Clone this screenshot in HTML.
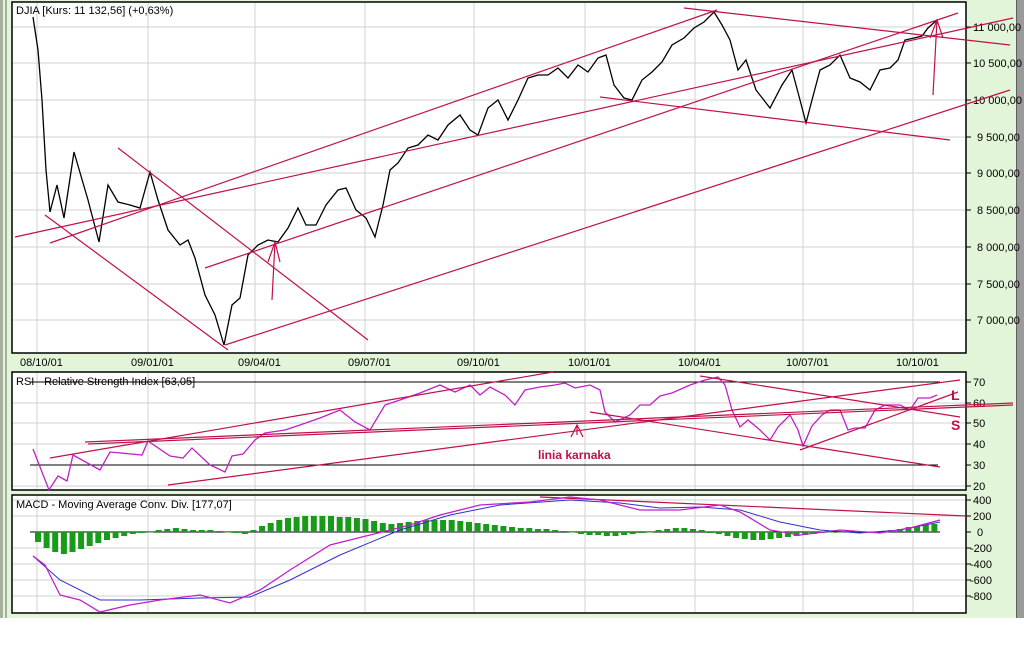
<!DOCTYPE html>
<html><head><meta charset="utf-8"><style>
html,body{margin:0;padding:0;width:1024px;height:651px;overflow:hidden;background:#fff}
svg{display:block;font-family:"Liberation Sans",sans-serif}
</style></head><body>
<svg id="s" width="1024" height="651" viewBox="0 0 1024 651" xmlns="http://www.w3.org/2000/svg">
<rect x="0" y="0" width="1024" height="618" fill="#e3f5d9"/>
<rect x="0" y="0" width="3" height="618" fill="#a8b0a0"/>
<rect x="5" y="0" width="2" height="618" fill="#a8b0a0"/>
<rect x="1017" y="0" width="7" height="618" fill="#9a9a9a"/>
<rect x="1016" y="0" width="1" height="618" fill="#606060"/>
<rect x="12" y="2" width="954" height="351" fill="#fff" stroke="#000" stroke-width="1.5"/>
<g stroke="#d2d2d2" stroke-width="1">
<line x1="37" y1="3" x2="37" y2="352"/><line x1="148" y1="3" x2="148" y2="352"/><line x1="255" y1="3" x2="255" y2="352"/><line x1="365" y1="3" x2="365" y2="352"/><line x1="474" y1="3" x2="474" y2="352"/><line x1="585" y1="3" x2="585" y2="352"/><line x1="695" y1="3" x2="695" y2="352"/><line x1="803" y1="3" x2="803" y2="352"/><line x1="913" y1="3" x2="913" y2="352"/>
<line x1="13" y1="27" x2="965" y2="27"/><line x1="13" y1="63" x2="965" y2="63"/><line x1="13" y1="100" x2="965" y2="100"/><line x1="13" y1="137" x2="965" y2="137"/><line x1="13" y1="173" x2="965" y2="173"/><line x1="13" y1="210" x2="965" y2="210"/><line x1="13" y1="247" x2="965" y2="247"/><line x1="13" y1="284" x2="965" y2="284"/><line x1="13" y1="320" x2="965" y2="320"/>
</g>
<g font-size="11" fill="#000">
<text x="16" y="14">DJIA [Kurs: 11 132,56] (+0,63%)</text>
<g stroke="#000"><line x1="966" y1="27" x2="971" y2="27"/><line x1="966" y1="63" x2="971" y2="63"/><line x1="966" y1="100" x2="971" y2="100"/><line x1="966" y1="137" x2="971" y2="137"/><line x1="966" y1="173" x2="971" y2="173"/><line x1="966" y1="210" x2="971" y2="210"/><line x1="966" y1="247" x2="971" y2="247"/><line x1="966" y1="284" x2="971" y2="284"/><line x1="966" y1="320" x2="971" y2="320"/></g>
<text x="973" y="31">11 000,00</text><text x="973" y="67">10 500,00</text><text x="973" y="104">10 000,00</text><text x="977" y="141">9 500,00</text><text x="977" y="177">9 000,00</text><text x="977" y="214">8 500,00</text><text x="977" y="251">8 000,00</text><text x="977" y="288">7 500,00</text><text x="977" y="324">7 000,00</text>
<text x="20" y="366">08/10/01</text><text x="131" y="366">09/01/01</text><text x="238" y="366">09/04/01</text><text x="348" y="366">09/07/01</text><text x="457" y="366">09/10/01</text><text x="568" y="366">10/01/01</text><text x="678" y="366">10/04/01</text><text x="786" y="366">10/07/01</text><text x="896" y="366">10/10/01</text>
</g>
<polyline fill="none" stroke="#000" stroke-width="1.3" points="33,17 38,50 42,100 46,170 50,212 57,185 64,218 74,152 88,200 99,242 108,185 118,202 130,205 140,208 150,172 158,200 168,230 180,245 188,240 195,258 205,295 215,315 224,345 232,305 240,298 248,255 258,245 268,240 278,242 288,228 298,208 306,225 316,225 326,205 338,190 346,188 356,210 366,218 375,237 383,205 390,170 398,163 408,148 418,145 428,135 438,140 448,125 460,115 470,130 478,135 488,108 498,100 508,120 518,100 528,78 538,75 548,75 558,68 568,78 578,65 588,72 598,58 606,55 614,85 624,98 632,100 642,80 652,72 662,62 672,45 684,38 694,28 704,22 714,12 722,25 730,40 738,70 746,60 756,90 770,108 782,85 792,70 800,100 806,123 812,100 820,70 830,65 840,55 850,78 860,82 870,90 880,70 890,68 898,60 905,40 914,38 922,36 928,28 937,20"/>
<g stroke="#c0104a" stroke-width="1.2" fill="none">
<line x1="15" y1="237" x2="1013" y2="18"/>
<line x1="50" y1="243" x2="717" y2="10"/>
<line x1="205" y1="268" x2="958" y2="13"/>
<line x1="225" y1="345" x2="1010" y2="90"/>
<line x1="118" y1="148" x2="368" y2="340"/>
<line x1="45" y1="215" x2="228" y2="350"/>
<line x1="684" y1="8" x2="1010" y2="45"/>
<line x1="600" y1="97" x2="950" y2="140"/>
<line x1="272" y1="300" x2="275" y2="242"/><polyline points="268,262 275,242 280,262"/>
<line x1="933" y1="95" x2="937" y2="20"/><polyline points="930,38 937,20 943,38"/>
</g>
<rect x="12" y="372" width="954" height="118" fill="#fff" stroke="#000" stroke-width="1.5"/>
<g stroke="#d2d2d2"><line x1="37" y1="373" x2="37" y2="489"/><line x1="148" y1="373" x2="148" y2="489"/><line x1="255" y1="373" x2="255" y2="489"/><line x1="365" y1="373" x2="365" y2="489"/><line x1="474" y1="373" x2="474" y2="489"/><line x1="585" y1="373" x2="585" y2="489"/><line x1="695" y1="373" x2="695" y2="489"/><line x1="803" y1="373" x2="803" y2="489"/><line x1="913" y1="373" x2="913" y2="489"/>
<line x1="13" y1="403" x2="965" y2="403"/><line x1="13" y1="423" x2="965" y2="423"/><line x1="13" y1="444" x2="965" y2="444"/><line x1="13" y1="486" x2="965" y2="486"/></g>
<line x1="30" y1="382" x2="940" y2="382" stroke="#000"/>
<line x1="30" y1="465" x2="938" y2="465" stroke="#000"/>
<g font-size="11"><text x="16" y="385">RSI - Relative Strength Index [63,05]</text>
<text x="973" y="386">70</text><text x="973" y="407">60</text><text x="973" y="427">50</text><text x="973" y="448">40</text><text x="973" y="469">30</text><text x="973" y="490">20</text></g>
<g stroke="#000"><line x1="966" y1="382" x2="971" y2="382"/><line x1="966" y1="403" x2="971" y2="403"/><line x1="966" y1="423" x2="971" y2="423"/><line x1="966" y1="444" x2="971" y2="444"/><line x1="966" y1="465" x2="971" y2="465"/><line x1="966" y1="486" x2="971" y2="486"/></g>
<polyline fill="none" stroke="#c020c8" stroke-width="1.3" points="33,449 49,490 58,476 67,481 73,455 100,470 110,452 142,455 148,441 170,456 183,458 192,448 210,465 225,472 232,456 243,454 255,440 265,433 285,430 300,425 320,418 340,410 355,422 370,430 385,405 400,400 420,393 440,385 455,392 470,385 480,395 490,387 505,395 515,405 525,390 540,387 555,385 565,383 575,388 590,385 600,390 605,412 615,422 630,415 640,405 650,405 660,396 672,393 690,385 705,380 718,377 725,385 732,410 740,427 748,420 760,430 770,440 778,427 790,415 798,430 803,446 812,426 822,415 830,410 840,410 848,430 855,428 865,428 875,410 885,405 893,405 900,405 910,410 918,398 930,398 937,395"/>
<g stroke="#c0104a" stroke-width="1.2" fill="none">
<line x1="50" y1="458" x2="553" y2="372"/>
<line x1="85" y1="442" x2="1013" y2="403"/>
<line x1="88" y1="444" x2="1013" y2="405"/>
<line x1="168" y1="485" x2="960" y2="380"/>
<line x1="800" y1="450" x2="958" y2="392"/>
<line x1="700" y1="376" x2="960" y2="417"/>
<line x1="590" y1="412" x2="940" y2="467"/>
<line x1="577" y1="435" x2="577" y2="425"/><polyline points="571,437 577,425 583,437"/>
</g>
<g font-weight="bold" fill="#c0104a"><text x="538" y="459" font-size="12">linia karnaka</text><text x="951" y="400" font-size="14">L</text><text x="951" y="430" font-size="14">S</text></g>
<rect x="12" y="495" width="954" height="118" fill="#fff" stroke="#000" stroke-width="1.5"/>
<g stroke="#d2d2d2"><line x1="37" y1="496" x2="37" y2="612"/><line x1="148" y1="496" x2="148" y2="612"/><line x1="255" y1="496" x2="255" y2="612"/><line x1="365" y1="496" x2="365" y2="612"/><line x1="474" y1="496" x2="474" y2="612"/><line x1="585" y1="496" x2="585" y2="612"/><line x1="695" y1="496" x2="695" y2="612"/><line x1="803" y1="496" x2="803" y2="612"/><line x1="913" y1="496" x2="913" y2="612"/>
<line x1="13" y1="500" x2="965" y2="500"/><line x1="13" y1="516" x2="965" y2="516"/><line x1="13" y1="548" x2="965" y2="548"/><line x1="13" y1="564" x2="965" y2="564"/><line x1="13" y1="580" x2="965" y2="580"/><line x1="13" y1="596" x2="965" y2="596"/></g>
<line x1="30" y1="532" x2="940" y2="532" stroke="#000"/>
<g font-size="11"><text x="16" y="508">MACD - Moving Average Conv. Div. [177,07]</text>
<text x="973" y="504">400</text><text x="973" y="520">200</text><text x="977" y="536">0</text><text x="970" y="552">-200</text><text x="970" y="568">-400</text><text x="970" y="584">-600</text><text x="970" y="600">-800</text></g>
<g stroke="#000"><line x1="966" y1="500" x2="971" y2="500"/><line x1="966" y1="516" x2="971" y2="516"/><line x1="966" y1="532" x2="971" y2="532"/><line x1="966" y1="548" x2="971" y2="548"/><line x1="966" y1="564" x2="971" y2="564"/><line x1="966" y1="580" x2="971" y2="580"/><line x1="966" y1="596" x2="971" y2="596"/></g>
<g id="bars" fill="#1a9a1a"></g>
<line x1="540" y1="497" x2="966" y2="516" stroke="#c0104a" stroke-width="1.2"/>
<polyline fill="none" stroke="#3030d0" stroke-width="1" points="33,556 60,580 100,600 140,600 200,598 250,597 290,580 340,555 400,530 450,515 500,505 570,500 620,503 660,508 700,507 740,510 780,522 820,530 860,533 900,530 940,522"/>
<polyline fill="none" stroke="#c020c8" stroke-width="1.3" points="33,556 45,565 60,595 80,600 100,612 130,605 160,600 200,595 230,603 260,590 290,570 330,545 370,535 410,525 440,515 480,505 530,502 570,497 600,500 640,510 680,510 720,505 740,512 770,530 800,535 840,530 880,533 910,528 940,520"/>
</svg>
<script>
var h=[-10,-16,-20,-22,-20,-17,-14,-11,-8,-6,-4,-2,-1,0,2,3,4,3,2,2,2,1,0,-1,-2,2,6,9,12,14,15,16,16,16,16,15,15,14,13,11,9,8,9,10,11,12,12,12,12,11,10,9,8,7,6,5,4,4,3,3,2,1,0,-2,-3,-3,-4,-4,-3,-2,-1,0,2,3,4,4,3,2,-1,-2,-4,-6,-7,-8,-8,-7,-6,-5,-4,-3,-2,-1,0,0,1,1,0,-1,0,2,3,5,6,7,8];
var g=document.getElementById('bars'),ns='http://www.w3.org/2000/svg';
for(var i=0;i<h.length;i++){var x=35+i*(905/h.length);var r=document.createElementNS(ns,'rect');var v=h[i];
r.setAttribute('x',x.toFixed(1));r.setAttribute('width','6');r.setAttribute('y',v>=0?532-v:532);r.setAttribute('height',Math.abs(v)||0.5);g.appendChild(r);}
</script>
</body></html>
